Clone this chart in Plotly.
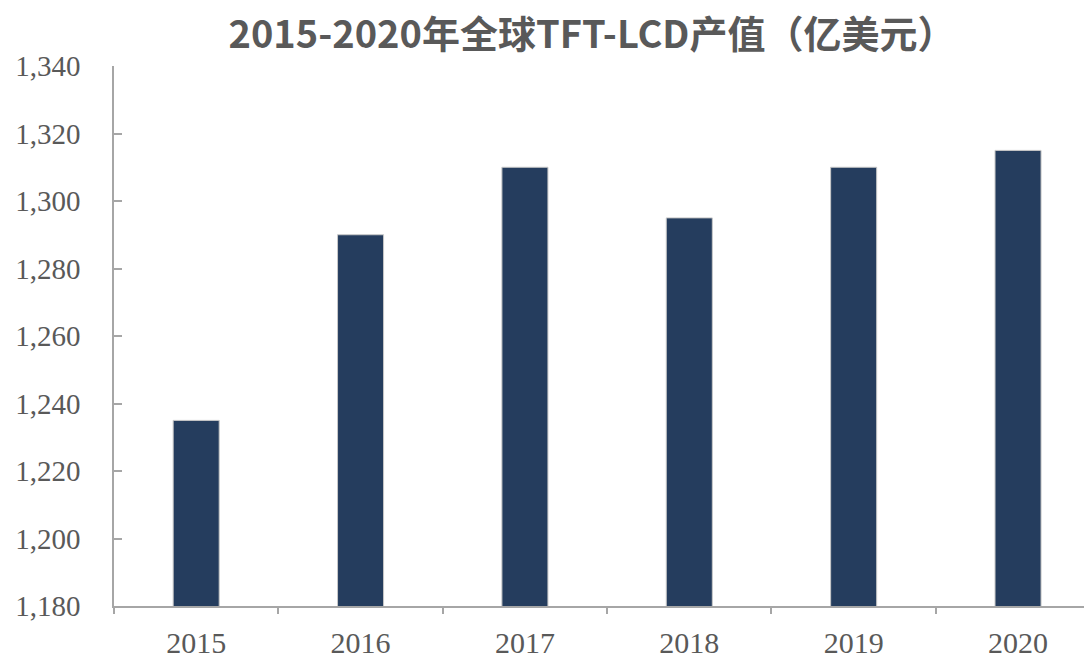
import plotly.graph_objects as go

years = ["2015", "2016", "2017", "2018", "2019", "2020"]
values = [1235, 1290, 1310, 1295, 1310, 1315]
y_ticks = [1180, 1200, 1220, 1240, 1260, 1280, 1300, 1320, 1340]
y_tick_labels = ["1,180", "1,200", "1,220", "1,240", "1,260", "1,280", "1,300", "1,320", "1,340"]

fig = go.Figure(go.Bar(
    x=years, y=values, width=0.28,
    marker=dict(color="#253D5E", line=dict(color="#C8C8C8", width=1)),
))

# the page body adds an 8px offset; figure sized to fill the window from there
fig.update_layout(
    width=1084, height=647,
    margin=dict(l=106, r=0, t=58, b=49, autoexpand=False),
    paper_bgcolor="white", plot_bgcolor="white",
    showlegend=False,
    title=dict(
        text="<b>2015-2020年全球TFT-LCD产值（亿美元）</b>",
        x=584 / 1084, xanchor="center", xref="container",
        y=1 - 27 / 647, yanchor="middle", yref="container",
        font=dict(family="Noto Sans CJK SC", size=38, color="#595959"),
    ),
)
fig.update_xaxes(
    type="category", range=[-0.5, 5.45], automargin=False,
    showline=True, linecolor="#A6A6A6", linewidth=1.5,
    ticks="outside", tickson="boundaries", ticklen=6, tickcolor="#A6A6A6", tickwidth=1.5,
    showgrid=False, zeroline=False,
    tickfont=dict(family="Liberation Serif", size=30, color="#595959"),
    ticklabelstandoff=9,
)
fig.update_yaxes(
    range=[1180, 1340], automargin=False,
    tickvals=y_ticks, ticktext=y_tick_labels,
    showline=True, linecolor="#A6A6A6", linewidth=1.5,
    ticks="inside", ticklen=8, tickcolor="#A6A6A6", tickwidth=1.5,
    showgrid=False, zeroline=False,
    tickfont=dict(family="Liberation Serif", size=29, color="#595959"),
    ticklabelstandoff=26,
)

fig.write_html("out.html")
